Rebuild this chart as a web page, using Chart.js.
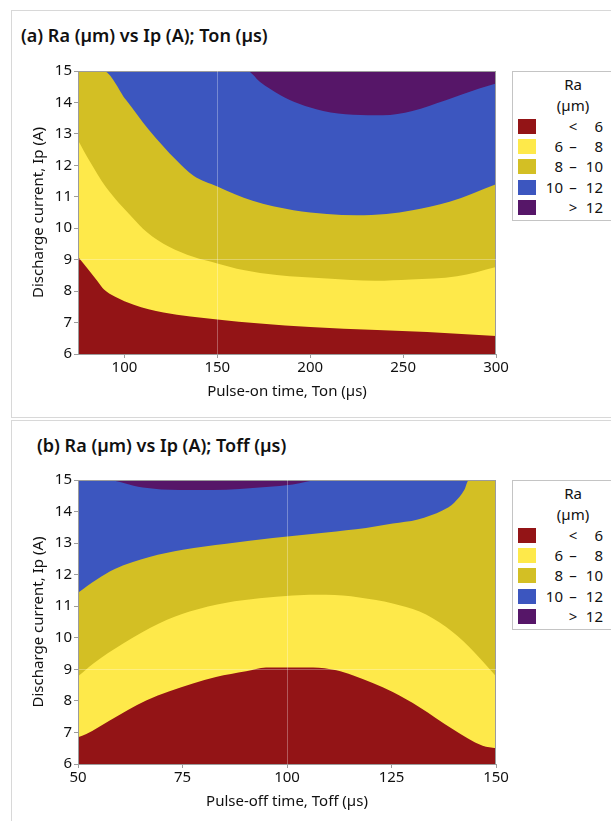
<!DOCTYPE html>
<html>
<head>
<meta charset="utf-8">
<script src="https://cdn.jsdelivr.net/npm/chart.js@4.4.1/dist/chart.umd.min.js"></script>
<style>
    body { margin: 0; width: 611px; height: 821px; overflow: hidden; background: #fff; position: relative;
           font-family: "Noto Sans", sans-serif; color: #111; }
    .panel { position: absolute; left: 11px; width: 640px; border: 1px solid #d8d8d8; }
    .title { position: absolute; font-size: 18px; font-weight: 600; line-height: 22px; white-space: nowrap; }
    canvas { position: absolute; left: 12px; }
    .legend { position: absolute; left: 512px; width: 120px; height: 148px; border: 1px solid #c4c4c4;
              background: #fff; font-size: 15px; line-height: 18px; }
    .legend div { position: absolute; white-space: nowrap; }
    .sw { left: 5px; width: 18px; height: 15px; }
</style>
</head>
<body>
<div class="panel" style="top:10px;height:406px"></div>
<div class="panel" style="top:420px;height:420px"></div>
<div class="title" style="left:21px;top:24px">(a) Ra (µm) vs Ip (A); Ton (µs)</div>
<div class="title" style="left:37px;top:434px">(b) Ra (µm) vs Ip (A); Toff (µs)</div>
<canvas id="chartA" width="500" height="405" style="top:11px"></canvas>
<canvas id="chartB" width="500" height="400" style="top:421px"></canvas>
<div class="legend" id="legendA" style="top:71px"></div>
<div class="legend" id="legendB" style="top:480px"></div>

<script>
// Axis ranges and ticks
const ipRange = [6, 15];
const ipTicks = [6, 7, 8, 9, 10, 11, 12, 13, 14, 15];
const tonRange = [75, 300];
const tonTicks = [100, 150, 200, 250, 300];
const toffRange = [50, 150];
const toffTicks = [50, 75, 100, 125, 150];

// Ra legend classes
const raLow = ['', '6', '8', '10', ''];
const raMid = ['<', '–', '–', '–', '>'];
const raHigh = ['6', '8', '10', '12', '12'];
const raColors = ['#931416', '#fee94a', '#d3bf24', '#3c56bf', '#561668'];

// (a) contour lines: Ip (A) at Ton (µs) for Ra = 6, 8, 10, 12
const a6Ton = [75, 85, 89, 95, 105, 121, 150, 173, 200, 236, 263, 300];
const a6Ip = [9.09, 8.35, 8.05, 7.82, 7.57, 7.32, 7.10, 6.97, 6.86, 6.76, 6.70, 6.57];
const a8Ton = [75, 81, 90, 104, 112, 124, 137, 150, 164, 182, 209, 235, 254, 279, 300];
const a8Ip = [12.80, 12.16, 11.31, 10.36, 9.88, 9.41, 9.09, 8.88, 8.67, 8.51, 8.40, 8.33, 8.37, 8.47, 8.77];
const a10Ton = [75, 88.5, 101, 113, 128, 137, 150, 169, 191, 209, 225, 241, 255, 275, 300];
const a10Ip = [15, 15, 14.07, 13.14, 12.16, 11.68, 11.33, 10.87, 10.57, 10.45, 10.41, 10.45, 10.57, 10.84, 11.40];
const a12Ton = [75, 166, 173, 184, 194, 207, 223, 239, 255, 273, 291, 300];
const a12Ip = [15, 15, 14.65, 14.23, 13.96, 13.73, 13.61, 13.59, 13.73, 14.07, 14.44, 14.60];

// (b) contour lines: Ip (A) at Toff (µs) for Ra = 6, 8, 10, 12
const b6Toff = [50, 52, 57.6, 66.3, 77.5, 83, 90.2, 95, 106.2, 111.8, 115.7, 125.3, 131.7, 139.6, 146.8, 150];
const b6Ip = [6.85, 6.95, 7.38, 8.01, 8.55, 8.76, 8.94, 9.06, 9.06, 8.97, 8.81, 8.28, 7.80, 7.11, 6.58, 6.50];
const b8Toff = [50, 53.6, 60.8, 69.5, 76.7, 85.5, 93.4, 101.4, 109.4, 117.3, 125.3, 131.7, 138, 143.6, 150];
const b8Ip = [8.78, 9.18, 9.82, 10.46, 10.83, 11.11, 11.25, 11.34, 11.36, 11.28, 11.09, 10.83, 10.35, 9.71, 8.78];
const b10Toff = [50, 54.4, 58.8, 67.1, 75.1, 85.5, 96.6, 109.4, 118.9, 125.3, 131.3, 137.3, 140, 142.4, 143.5, 150];
const b10Ip = [11.43, 11.84, 12.18, 12.56, 12.79, 12.98, 13.16, 13.34, 13.48, 13.62, 13.75, 14.04, 14.28, 14.68, 15, 15];
const b12Toff = [50, 56.8, 65.5, 74.3, 82.3, 95, 101.4, 107.8, 150];
const b12Ip = [15, 15, 14.76, 14.68, 14.68, 14.78, 14.86, 15, 15];

const FONT = '"Noto Sans", sans-serif';
const TEXT = '#111';
const AXIS = '#9c9c9c';

function points(xs, ys) {
    return xs.map((x, i) => ({ x: x, y: ys[i] }));
}

// each contour line filled down to the bottom, lowest Ra drawn on top
function layer(xs, ys, color) {
    return {
        data: points(xs, ys),
        backgroundColor: color,
        borderWidth: 0,
        pointRadius: 0,
        fill: 'start',
        cubicInterpolationMode: 'monotone'
    };
}

const framePlugin = {
    id: 'frame',
    afterDatasetsDraw(chart) {
        const a = chart.chartArea;
        const ctx = chart.ctx;
        ctx.save();
        ctx.strokeStyle = AXIS;
        ctx.lineWidth = 1;
        ctx.strokeRect(a.left + 0.5, a.top + 0.5, a.right - a.left - 1, a.bottom - a.top);
        ctx.restore();
    }
};

function refGrid(refValue) {
    return ctx => (ctx.tick && ctx.tick.value === refValue) ? 'rgba(255,255,255,0.3)' : 'rgba(0,0,0,0)';
}

function makeChart(id, lines, xRange, xTicks, xTitle, refX, pad) {
    const datasets = lines.map((l, i) => layer(l[0], l[1], raColors[i]));
    // > 12 region: everything up to the top of the plot
    datasets.push(layer(xRange, [ipRange[1], ipRange[1]], raColors[4]));

    new Chart(document.getElementById(id), {
        type: 'line',
        data: { datasets: datasets },
        options: {
            responsive: false,
            animation: false,
            layout: { padding: pad },
            plugins: { legend: { display: false }, tooltip: { enabled: false } },
            scales: {
                x: {
                    type: 'linear', min: xRange[0], max: xRange[1],
                    afterBuildTicks: s => { s.ticks = xTicks.map(v => ({ value: v })); },
                    afterFit: s => { s.height = 50; },
                    grid: { z: 1, color: refGrid(refX), tickColor: AXIS, tickLength: 4 },
                    border: { color: AXIS, z: 2 },
                    ticks: { color: TEXT, font: { family: FONT, size: 15 }, padding: 1, maxRotation: 0 },
                    title: { display: true, text: xTitle, color: TEXT, font: { family: FONT, size: 15 }, padding: { top: 4, bottom: 3 } }
                },
                y: {
                    type: 'linear', min: ipRange[0], max: ipRange[1],
                    afterBuildTicks: s => { s.ticks = ipTicks.map(v => ({ value: v })); },
                    afterFit: s => { s.width = 52; },
                    grid: { z: 1, color: refGrid(9), tickColor: AXIS, tickLength: 4 },
                    border: { color: AXIS, z: 2 },
                    ticks: { color: TEXT, font: { family: FONT, size: 15 }, padding: 2 },
                    title: { display: true, text: 'Discharge current, Ip (A)', color: TEXT, font: { family: FONT, size: 15 }, padding: { top: 4, bottom: 4 } }
                }
            }
        },
        plugins: [framePlugin]
    });
}

function makeLegend(id) {
    const box = document.getElementById(id);
    let html = '<div style="left:40px;width:40px;text-align:center;top:3px">Ra</div>' +
               '<div style="left:25px;width:70px;text-align:center;top:24px">(µm)</div>';
    raColors.forEach((c, i) => {
        const top = 45 + i * 20.2;
        html += '<div class="sw" style="top:' + (top + 2) + 'px;background:' + c + '"></div>' +
                '<div style="left:20px;width:30px;text-align:right;top:' + top + 'px">' + raLow[i] + '</div>' +
                '<div style="left:52px;width:16px;text-align:center;top:' + top + 'px">' + raMid[i] + '</div>' +
                '<div style="left:64px;width:26px;text-align:right;top:' + top + 'px">' + raHigh[i] + '</div>';
    });
    box.innerHTML = html;
}

makeChart('chartA',
    [[a6Ton, a6Ip], [a8Ton, a8Ip], [a10Ton, a10Ip], [a12Ton, a12Ip]],
    tonRange, tonTicks, 'Pulse-on time, Ton (µs)', 150,
    { left: 14, right: 16, top: 60, bottom: 12 });

makeChart('chartB',
    [[b6Toff, b6Ip], [b8Toff, b8Ip], [b10Toff, b10Ip], [b12Toff, b12Ip]],
    toffRange, toffTicks, 'Pulse-off time, Toff (µs)', 100,
    { left: 14, right: 16, top: 59, bottom: 7 });

makeLegend('legendA');
makeLegend('legendB');
</script>
</body>
</html>
